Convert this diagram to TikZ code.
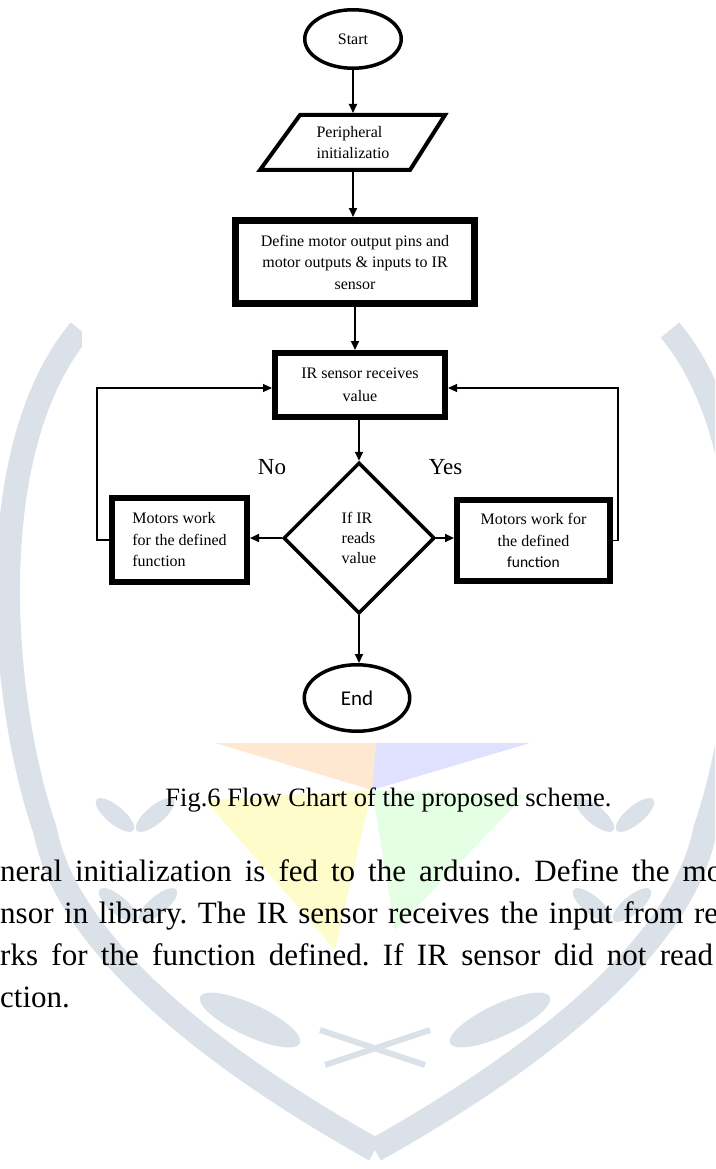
\documentclass[tikz,border=0pt]{standalone}
\usepackage{fontspec}
\setmainfont{Liberation Serif}
\newfontfamily\calibrifont{Carlito}
\usetikzlibrary{shapes.geometric,arrows.meta}
\frenchspacing

\definecolor{wm}{RGB}{218,225,233}
\newcommand{\chartfont}{\fontsize{16}{21.5}\selectfont}
\newcommand{\bodyfont}{\fontsize{31}{40}\selectfont}

\tikzset{
  box/.style={draw, rectangle, line width=6pt, line join=miter, inner sep=2pt, align=center, font=\chartfont},
  terminal/.style={draw, ellipse, line width=3.5pt, inner sep=0pt, font=\chartfont},
  flow/.style={line width=2pt, -{Triangle[length=9pt,width=8pt]}},
  feedback/.style={line width=1.3pt, -{Triangle[length=9pt,width=8pt]}},
  leaf/.style={fill=wm},
}

\begin{document}
\begin{tikzpicture}[x=1pt,y=-1pt]
    \useasboundingbox (0,0) rectangle (715,1169);
    \clip (0,0) rectangle (715,1169);

    % watermark
    \draw[wm, line width=24pt] (80,330) .. controls (-20,450) and (0,700) .. (45,830)
        .. controls (70,960) and (250,1080) .. (375,1150);
    \draw[wm, line width=24pt] (670,330) .. controls (770,450) and (750,700) .. (705,830)
        .. controls (680,960) and (500,1080) .. (375,1150);
    \foreach \x/\y/\a in {115/815/140, 155/815/40, 118/905/140, 158/905/40,
                          635/815/40, 595/815/140, 632/905/40, 592/905/140}
        \fill[leaf, rotate around={\a:(\x,\y)}] (\x,\y) ellipse (24 and 9);
    \fill[leaf, rotate around={-25:(250,1020)}] (250,1020) ellipse (55 and 16);
    \fill[leaf, rotate around={25:(500,1020)}] (500,1020) ellipse (55 and 16);
    \draw[wm, line width=6pt] (320,1030) -- (425,1065);
    \draw[wm, line width=6pt] (430,1030) -- (325,1065);
    \fill[orange!18] (372,790) -- (215,743) -- (376,743) -- cycle;
    \fill[blue!12] (372,790) -- (376,743) -- (530,743) -- cycle;
    \fill[yellow!20] (372,790) -- (205,800) -- (335,950) -- cycle;
    \fill[green!10] (372,790) -- (525,795) -- (395,930) -- cycle;
    \fill[white] (82,0) rectangle (653,743);

    % flow chart
    \node[terminal, minimum width=96.5, minimum height=58.5] (start) at (353,39) {Start};
    \node[align=left, font=\chartfont, minimum height=59, outer sep=0pt] (init) at (353,142.5)
        {Peripheral\\initializatio};
    \draw[line width=4pt, line join=miter] (260,170) -- (300,115) -- (445,115) -- (410,170) -- cycle;
    \node[box, line width=7pt, minimum width=239, minimum height=83] (define) at (355,262)
        {Define motor output pins and\\motor outputs \& inputs to IR\\sensor};
    \node[box, minimum width=170, minimum height=64, font=\fontsize{16}{23}\selectfont] (irbox) at (360,385)
        {IR sensor receives\\value};
    \node[draw, diamond, aspect=1, line width=3.5pt, inner sep=0pt, minimum width=151, minimum height=151,
        align=left, font=\fontsize{16}{20}\selectfont] (decide) at (359,538) {If IR\\reads\\value};
    \node[box, align=left, minimum width=135, minimum height=84] (leftbox) at (179.5,540)
        {Motors work\\for the defined\\function};
    \node[box, minimum width=153, minimum height=81] (rightbox) at (533.5,540.5)
        {Motors work for\\the defined\\{\calibrifont\fontsize{15.5}{21.5}\selectfont function}};
    \node[terminal, minimum width=105.5, minimum height=66.5, font=\calibrifont\fontsize{21}{24}\selectfont]
        (stop) at (357,698) {End};
    \node[font=\fontsize{23}{26}\selectfont] (no) at (272,467) {No};
    \node[font=\fontsize{23}{26}\selectfont] (yes) at (445.5,467) {Yes};

    \draw[flow] (start) -- (init);
    \draw[flow] (init.south) -- (init.south |- define.north);
    \draw[flow] (define.south) -- (define.south |- irbox.north);
    \draw[flow] (decide.north |- irbox.south) -- (decide.north);
    \draw[flow] (decide.west) -- (decide.west -| leftbox.east);
    \draw[flow] (decide.east) -- (decide.east -| rightbox.west);
    \draw[flow] (decide.south) -- (decide.south |- stop.north);
    \draw[feedback] (leftbox.west) -- ++(-12,0) |- ([yshift=-3pt]irbox.west);
    \draw[feedback] (rightbox.east) -- ++(5,0) |- ([yshift=-3pt]irbox.east);

    % caption and text
    \node[anchor=base, font=\fontsize{26.5}{30}\selectfont] (caption) at (388.5,806)
        {Fig.6 Flow Chart of the proposed scheme.};
    \node[anchor=base west, inner sep=0pt, font=\bodyfont] (line1) at (0,881)
        {\makebox[722pt][s]{neral initialization is fed to the arduino. Define the mo}};
    \node[anchor=base west, inner sep=0pt, font=\bodyfont] (line2) at (0,923)
        {\makebox[718pt][s]{nsor in library. The IR sensor receives the input from re}};
    \node[anchor=base west, inner sep=0pt, font=\bodyfont] (line3) at (0,965)
        {\makebox[713pt][s]{rks for the function defined. If IR sensor did not read}};
    \node[anchor=base west, inner sep=0pt, font=\bodyfont] (line4) at (0,1007) {ction.};
\end{tikzpicture}
\end{document}
